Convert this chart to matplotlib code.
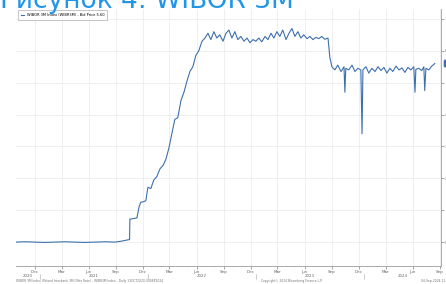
import numpy as np
import pandas as pd
import matplotlib
matplotlib.use('Agg')
import matplotlib.pyplot as plt
import matplotlib.dates as mdates

plt.rcParams['font.family'] = ['DejaVu Sans']

# значения (WIBOR 3M, %)
dates = [
    '2020-10-12', '2020-11-11', '2020-12-15', '2021-01-18', '2021-02-21', '2021-03-26',
    '2021-04-29', '2021-06-02', '2021-07-06', '2021-08-09', '2021-09-11', '2021-09-28',
    '2021-10-15', '2021-10-25', '2021-10-31', '2021-11-01', '2021-11-15', '2021-11-25',
    '2021-12-02', '2021-12-08', '2021-12-19', '2021-12-25', '2022-01-01', '2022-01-11',
    '2022-01-21', '2022-01-31', '2022-02-11', '2022-02-21', '2022-03-03', '2022-03-13',
    '2022-03-23', '2022-04-02', '2022-04-12', '2022-04-23', '2022-05-03', '2022-05-13',
    '2022-05-23', '2022-06-02', '2022-06-12', '2022-06-22', '2022-07-03', '2022-07-13',
    '2022-07-23', '2022-08-02', '2022-08-12', '2022-08-22', '2022-09-01', '2022-09-12',
    '2022-09-22', '2022-10-02', '2022-10-12', '2022-10-22', '2022-11-01', '2022-11-11',
    '2022-11-22', '2022-12-02', '2022-12-12', '2022-12-22', '2023-01-01', '2023-01-11',
    '2023-01-21', '2023-02-01', '2023-02-11', '2023-02-21', '2023-03-03', '2023-03-13',
    '2023-03-23', '2023-04-02', '2023-04-13', '2023-04-23', '2023-05-03', '2023-05-13',
    '2023-05-23', '2023-06-02', '2023-06-12', '2023-06-23', '2023-07-03', '2023-07-13',
    '2023-07-23', '2023-08-02', '2023-08-12', '2023-08-22', '2023-09-02', '2023-09-08',
    '2023-09-15', '2023-09-25', '2023-10-05', '2023-10-16', '2023-10-26', '2023-10-29',
    '2023-11-01', '2023-11-11', '2023-11-22', '2023-12-02', '2023-12-12', '2023-12-22',
    '2023-12-26', '2023-12-29', '2024-01-08', '2024-01-18', '2024-01-28', '2024-02-08',
    '2024-02-18', '2024-02-28', '2024-03-09', '2024-03-19', '2024-03-29', '2024-04-08',
    '2024-04-19', '2024-04-29', '2024-05-09', '2024-05-19', '2024-05-29', '2024-06-08',
    '2024-06-18', '2024-06-22', '2024-06-25', '2024-07-05', '2024-07-15', '2024-07-22',
    '2024-07-25', '2024-07-29', '2024-08-08', '2024-08-18', '2024-08-28',
]
values = [
    0.00, 0.01, 0.00, -0.01, 0.00, 0.01,
    0.00, -0.01, 0.00, 0.01, 0.00, 0.02,
    0.05, 0.07, 0.08, 0.72, 0.74, 0.76,
    1.10, 1.25, 1.27, 1.30, 1.72, 1.68,
    1.95, 2.05, 2.30, 2.40, 2.60, 2.95,
    3.40, 3.85, 3.90, 4.45, 4.70, 5.05,
    5.35, 5.50, 5.85, 6.00, 6.30, 6.40,
    6.55, 6.35, 6.60, 6.40, 6.50, 6.30,
    6.55, 6.65, 6.40, 6.60, 6.35, 6.45,
    6.30, 6.40, 6.25, 6.35, 6.30, 6.40,
    6.28, 6.45, 6.35, 6.55, 6.40, 6.60,
    6.45, 6.65, 6.35, 6.55, 6.70, 6.45,
    6.60, 6.40, 6.50, 6.38, 6.45, 6.35,
    6.42, 6.38, 6.45, 6.36, 6.40, 5.80,
    5.50, 5.40, 5.55, 5.35, 5.50, 4.70,
    5.45, 5.40, 5.55, 5.35, 5.45, 5.40,
    3.40, 5.40, 5.50, 5.30, 5.45, 5.35,
    5.50, 5.38, 5.48, 5.30, 5.45, 5.35,
    5.52, 5.40, 5.46, 5.32, 5.48, 5.40,
    5.50, 4.70, 5.42, 5.45, 5.38, 5.50,
    4.75, 5.45, 5.40, 5.52, 5.60,
]
y_ticks = [0, 1, 2, 3, 4, 5, 6, 7]
y_labels = ['0.0', '1.0', '2.0', '3.0', '4.0', '5.0', '6.0', '7.0']
years = ['2020', '2021', '2022', '2023', '2024']

dt = pd.to_datetime(dates)
line_col = '#3d70ad'

fig = plt.figure(figsize=(4.46, 2.84), dpi=100)
ax = fig.add_axes([16 / 446, 1 - 266 / 284, 425 / 446, 257 / 284])

ax.plot(dt, values, color=line_col, lw=0.8, label='WIBOR 3M Index (WIBR3M) - Bid Price 5.60')

ax.set_xlim(pd.Timestamp('2020-10-12'), pd.Timestamp('2024-09-18'))
ax.set_ylim(-0.75, 7.31)

# ось Y справа
ax.yaxis.tick_right()
ax.set_yticks(y_ticks)
ax.set_yticklabels(y_labels)
ax.tick_params(axis='y', labelsize=3.0, colors='#666666', length=2, width=0.4, pad=1)

# месяцы: Dec / Mar / Jun / Sep
q_ticks = pd.date_range('2020-12-01', '2024-09-30', freq='3MS') + pd.Timedelta(days=14)
ax.set_xticks(q_ticks)
ax.set_xticklabels([d.strftime('%b') for d in q_ticks])
ax.xaxis.set_minor_locator(mdates.MonthLocator(bymonthday=15))
ax.tick_params(axis='x', which='major', labelsize=3.0, colors='#666666', length=2, width=0.4, pad=0.8)
ax.tick_params(axis='x', which='minor', length=1, width=0.3, color='#999999')

ax.grid(True, color='#ececec', lw=0.6)
ax.set_axisbelow(True)
for s in ['top', 'left']:
    ax.spines[s].set_visible(False)
for s in ['bottom', 'right']:
    ax.spines[s].set_color('#888888')
    ax.spines[s].set_linewidth(0.5)

# годы под месяцами
x0, x1 = ax.get_xlim()
for y in years:
    a = max(mdates.date2num(pd.Timestamp(y + '-01-01')), x0)
    b = min(mdates.date2num(pd.Timestamp(y + '-12-31')), x1)
    ax.text((a + b) / 2, -0.032, y, transform=ax.get_xaxis_transform(),
            ha='center', va='top', fontsize=2.8, color='#666666')
    if y != '2020':
        ax.plot([a, a], [-0.03, -0.05], transform=ax.get_xaxis_transform(),
                color='#aaaaaa', lw=0.4, clip_on=False)

# легенда
leg = ax.legend(loc='upper left', fontsize=2.6, handlelength=0.8, handleheight=0.8,
                frameon=True, borderpad=0.5, bbox_to_anchor=(0.003, 0.998))
leg.get_frame().set_edgecolor('#999999')
leg.get_frame().set_linewidth(0.5)
leg.get_frame().set_boxstyle('square')

# метка последнего значения
ax.annotate(f'{values[-1]:.2f}', xy=(1.0, values[-1]), xycoords=('axes fraction', 'data'),
            xytext=(3, 0), textcoords='offset points', fontsize=3.5, color='white',
            va='center', ha='left',
            bbox=dict(boxstyle='round,pad=0.3', fc=line_col, ec='none'))

# заголовок (обрезан сверху)
fig.text(0.0, 1 - 8 / 284, 'Рисунок 4: WIBOR 3M', fontsize=19, color='#2196e8',
         ha='left', va='baseline')

# подвал
fig.text(16 / 446, 0.003, 'WIBOR 3M Index (Poland Interbank 3M Offer Rate) - WIBR3M Index - Daily 13OCT2020-04SEP2024',
         fontsize=2.2, color='#777777', ha='left', va='bottom')
fig.text(0.585, 0.003, 'Copyright© 2024 Bloomberg Finance L.P.', fontsize=2.2,
         color='#777777', ha='left', va='bottom')
fig.text(0.945, 0.003, '04-Sep-2024 11:32', fontsize=2.2, color='#777777',
         ha='left', va='bottom')

fig.savefig('out.png', dpi=100)
